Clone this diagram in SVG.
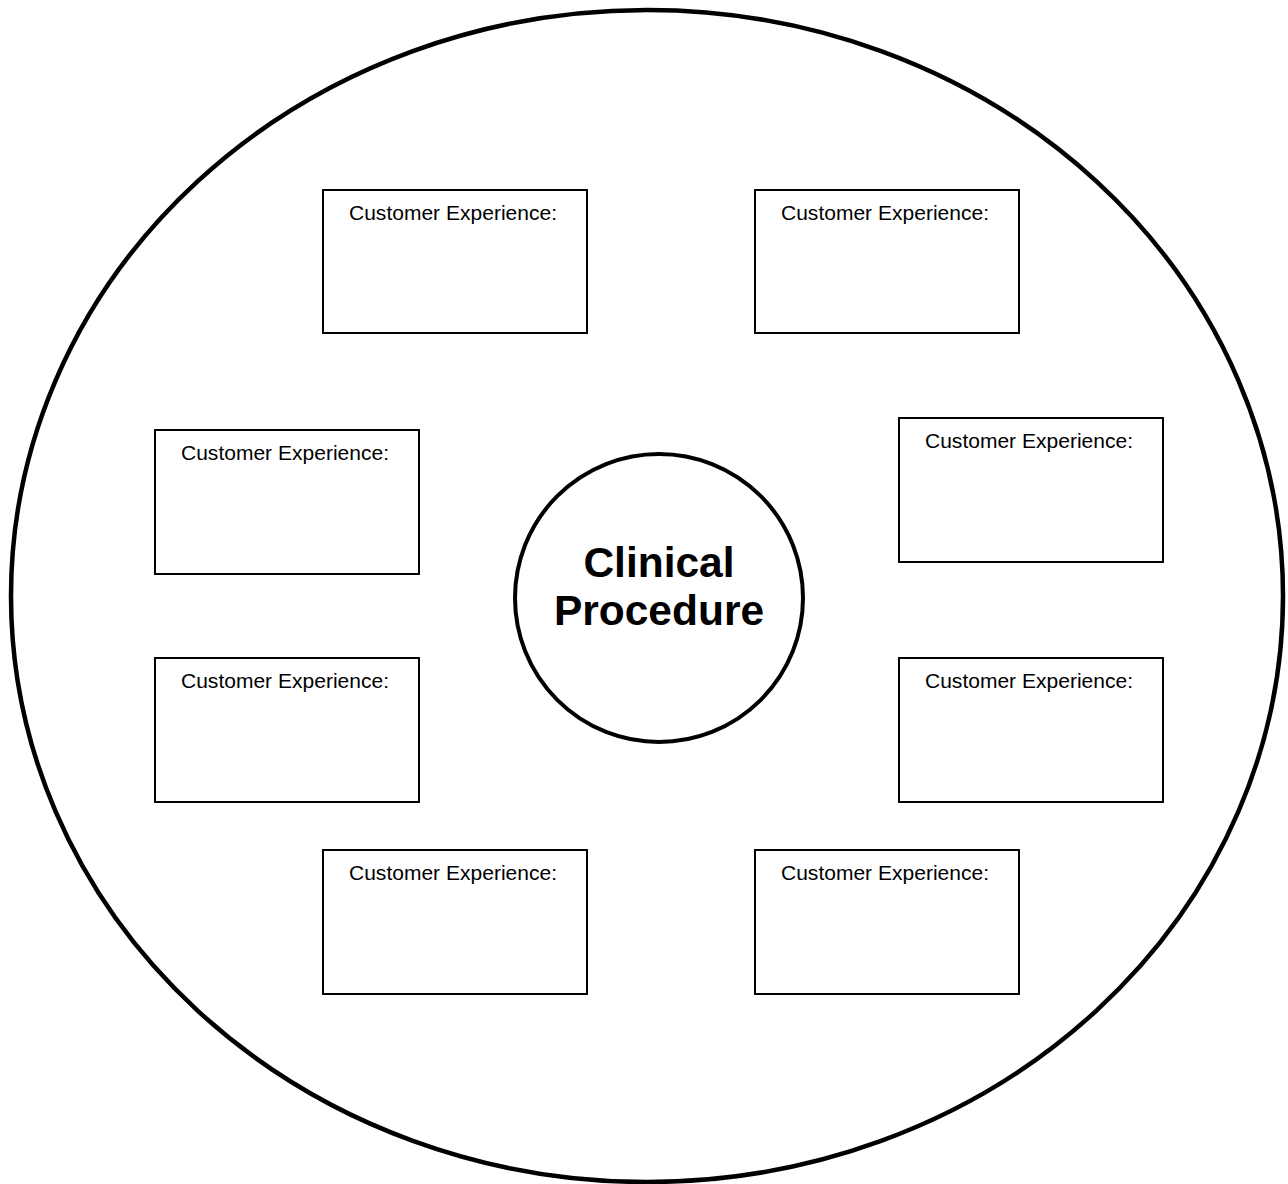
<svg xmlns="http://www.w3.org/2000/svg" width="1288" height="1184" viewBox="0 0 1288 1184">
<style>
.outer{fill:none;stroke:#000;stroke-width:4.5}
.hub{fill:#fff;stroke:#000;stroke-width:4}
.box{fill:#fff;stroke:#000;stroke-width:2}
.lbl{font-family:"Liberation Sans",Arial,sans-serif;font-size:20px;fill:#000}
.title{font-family:"Liberation Sans",Arial,sans-serif;font-size:42.5px;font-weight:bold;fill:#000;text-anchor:middle}
</style>
<rect width="1288" height="1184" fill="#fff"/>
<g id="boundary"><ellipse class="outer" cx="647" cy="596" rx="636" ry="586"/></g>
<g id="connectors"></g>
<g id="hub"><circle class="hub" cx="659" cy="598" r="144"/>
<text class="title" x="659" y="577">Clinical</text>
<text class="title" x="659" y="625">Procedure</text></g>
<g id="box1"><rect class="box" x="323" y="190" width="264" height="143"/><text class="lbl" x="349" y="220" textLength="208" lengthAdjust="spacingAndGlyphs">Customer Experience:</text></g>
<g id="box2"><rect class="box" x="755" y="190" width="264" height="143"/><text class="lbl" x="781" y="220" textLength="208" lengthAdjust="spacingAndGlyphs">Customer Experience:</text></g>
<g id="box3"><rect class="box" x="155" y="430" width="264" height="144"/><text class="lbl" x="181" y="460" textLength="208" lengthAdjust="spacingAndGlyphs">Customer Experience:</text></g>
<g id="box4"><rect class="box" x="899" y="418" width="264" height="144"/><text class="lbl" x="925" y="448" textLength="208" lengthAdjust="spacingAndGlyphs">Customer Experience:</text></g>
<g id="box5"><rect class="box" x="155" y="658" width="264" height="144"/><text class="lbl" x="181" y="688" textLength="208" lengthAdjust="spacingAndGlyphs">Customer Experience:</text></g>
<g id="box6"><rect class="box" x="899" y="658" width="264" height="144"/><text class="lbl" x="925" y="688" textLength="208" lengthAdjust="spacingAndGlyphs">Customer Experience:</text></g>
<g id="box7"><rect class="box" x="323" y="850" width="264" height="144"/><text class="lbl" x="349" y="880" textLength="208" lengthAdjust="spacingAndGlyphs">Customer Experience:</text></g>
<g id="box8"><rect class="box" x="755" y="850" width="264" height="144"/><text class="lbl" x="781" y="880" textLength="208" lengthAdjust="spacingAndGlyphs">Customer Experience:</text></g>
</svg>
